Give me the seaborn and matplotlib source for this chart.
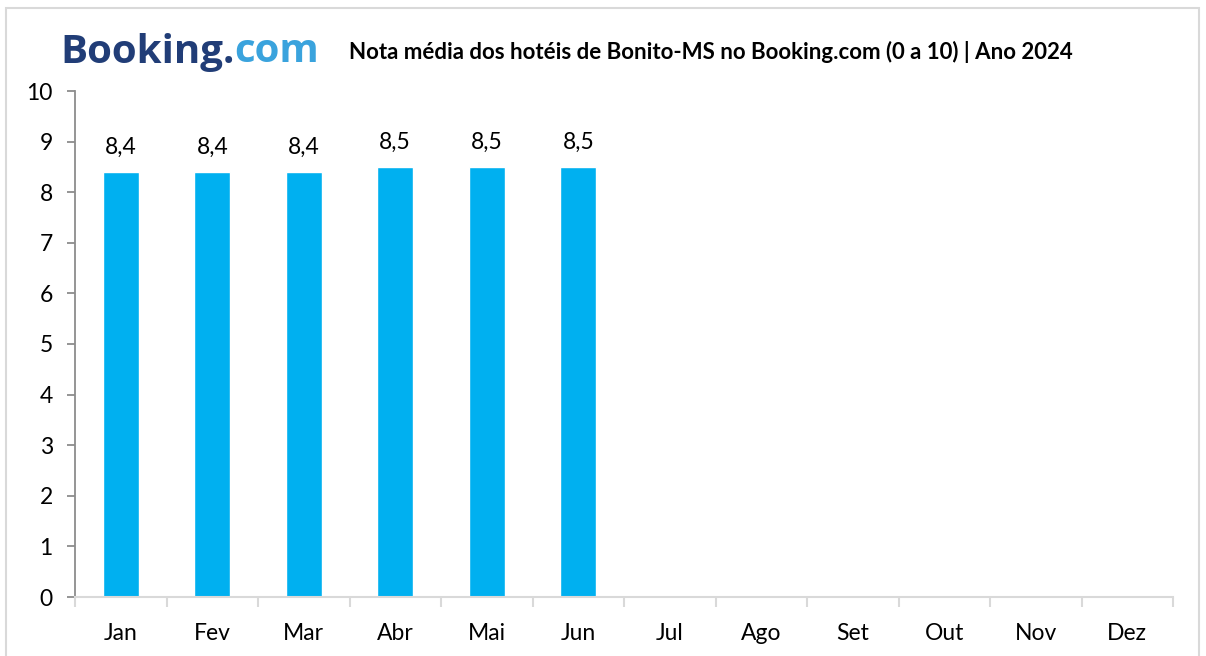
import pandas as pd
import seaborn as sns
import matplotlib.pyplot as plt
from matplotlib.patches import Rectangle

# data
meses = ['Jan', 'Fev', 'Mar', 'Abr', 'Mai', 'Jun', 'Jul', 'Ago', 'Set', 'Out', 'Nov', 'Dez']
notas = [8.4, 8.4, 8.4, 8.5, 8.5, 8.5, None, None, None, None, None, None]

df = pd.DataFrame({'Mes': meses, 'Nota': notas})

sns.set_style("white")
plt.rcParams['font.family'] = ['Lato', 'DejaVu Sans']
plt.rcParams['text.color'] = 'black'
plt.rcParams['xtick.color'] = 'black'
plt.rcParams['ytick.color'] = 'black'

fig = plt.figure(figsize=(12.06, 6.56), dpi=100)
W, H = 1206, 656
ax = fig.add_axes([75 / W, 1 - 597 / H, (1173 - 75) / W, (597 - 91) / H])

sns.barplot(data=df, x='Mes', y='Nota', order=meses, color='#00B0F0',
            saturation=1, width=0.39, ax=ax)

# data labels
for i, v in enumerate(notas):
    if v is not None:
        ax.text(i, v + 0.27, f'{v:.1f}'.replace('.', ','), ha='center', va='bottom',
                fontsize=16.5, color='black')

ax.set_ylim(0, 10)
ax.set_xlim(-0.5, len(meses) - 0.5)
ax.set_yticks(range(0, 11))
ax.set_xlabel('')
ax.set_ylabel('')

# spines
for s in ['top', 'right']:
    ax.spines[s].set_visible(False)
ax.spines['left'].set_color('#8c8c8c')
ax.spines['left'].set_linewidth(1.3)
ax.spines['bottom'].set_color('#d9d9d9')
ax.spines['bottom'].set_linewidth(1.5)

ax.tick_params(axis='y', left=True, length=6, width=1.3, color='#8c8c8c',
               labelcolor='black', labelsize=16.5, pad=10)
ax.set_xticks(range(len(meses)))
ax.set_xticklabels(meses)
ax.tick_params(axis='x', bottom=False, labelcolor='black', labelsize=16.5, pad=15)
ax.set_xticks([i - 0.5 for i in range(len(meses) + 1)], minor=True)
ax.tick_params(axis='x', which='minor', bottom=True, length=7, width=1.5,
               color='#d9d9d9')

# title
fig.text(711 / W, 1 - 52 / H,
         'Nota média dos hotéis de Bonito-MS no Booking.com (0 a 10) | Ano 2024',
         ha='center', va='center', fontsize=16, fontweight='bold')

# logo text
logo_font = ['Open Sans', 'DejaVu Sans']
y_logo = 1 - 52 / H
t1 = fig.text(60 / W, y_logo, 'Booking.', ha='left', va='center',
              fontsize=29, fontweight='bold', color='#213d77', family=logo_font)
fig.canvas.draw()
bb = t1.get_window_extent(fig.canvas.get_renderer())
fig.text(bb.x1 / W, y_logo, 'com', ha='left', va='center',
         fontsize=29, fontweight='bold', color='#3aa3dd', family=logo_font)

# outer border
fig.patches.append(Rectangle((6 / W, -0.01), (1199 - 6) / W, 1 - 8 / H + 0.01,
                             transform=fig.transFigure, fill=False,
                             edgecolor='#d9d9d9', linewidth=1.5))

fig.savefig('out.png', dpi=100)
